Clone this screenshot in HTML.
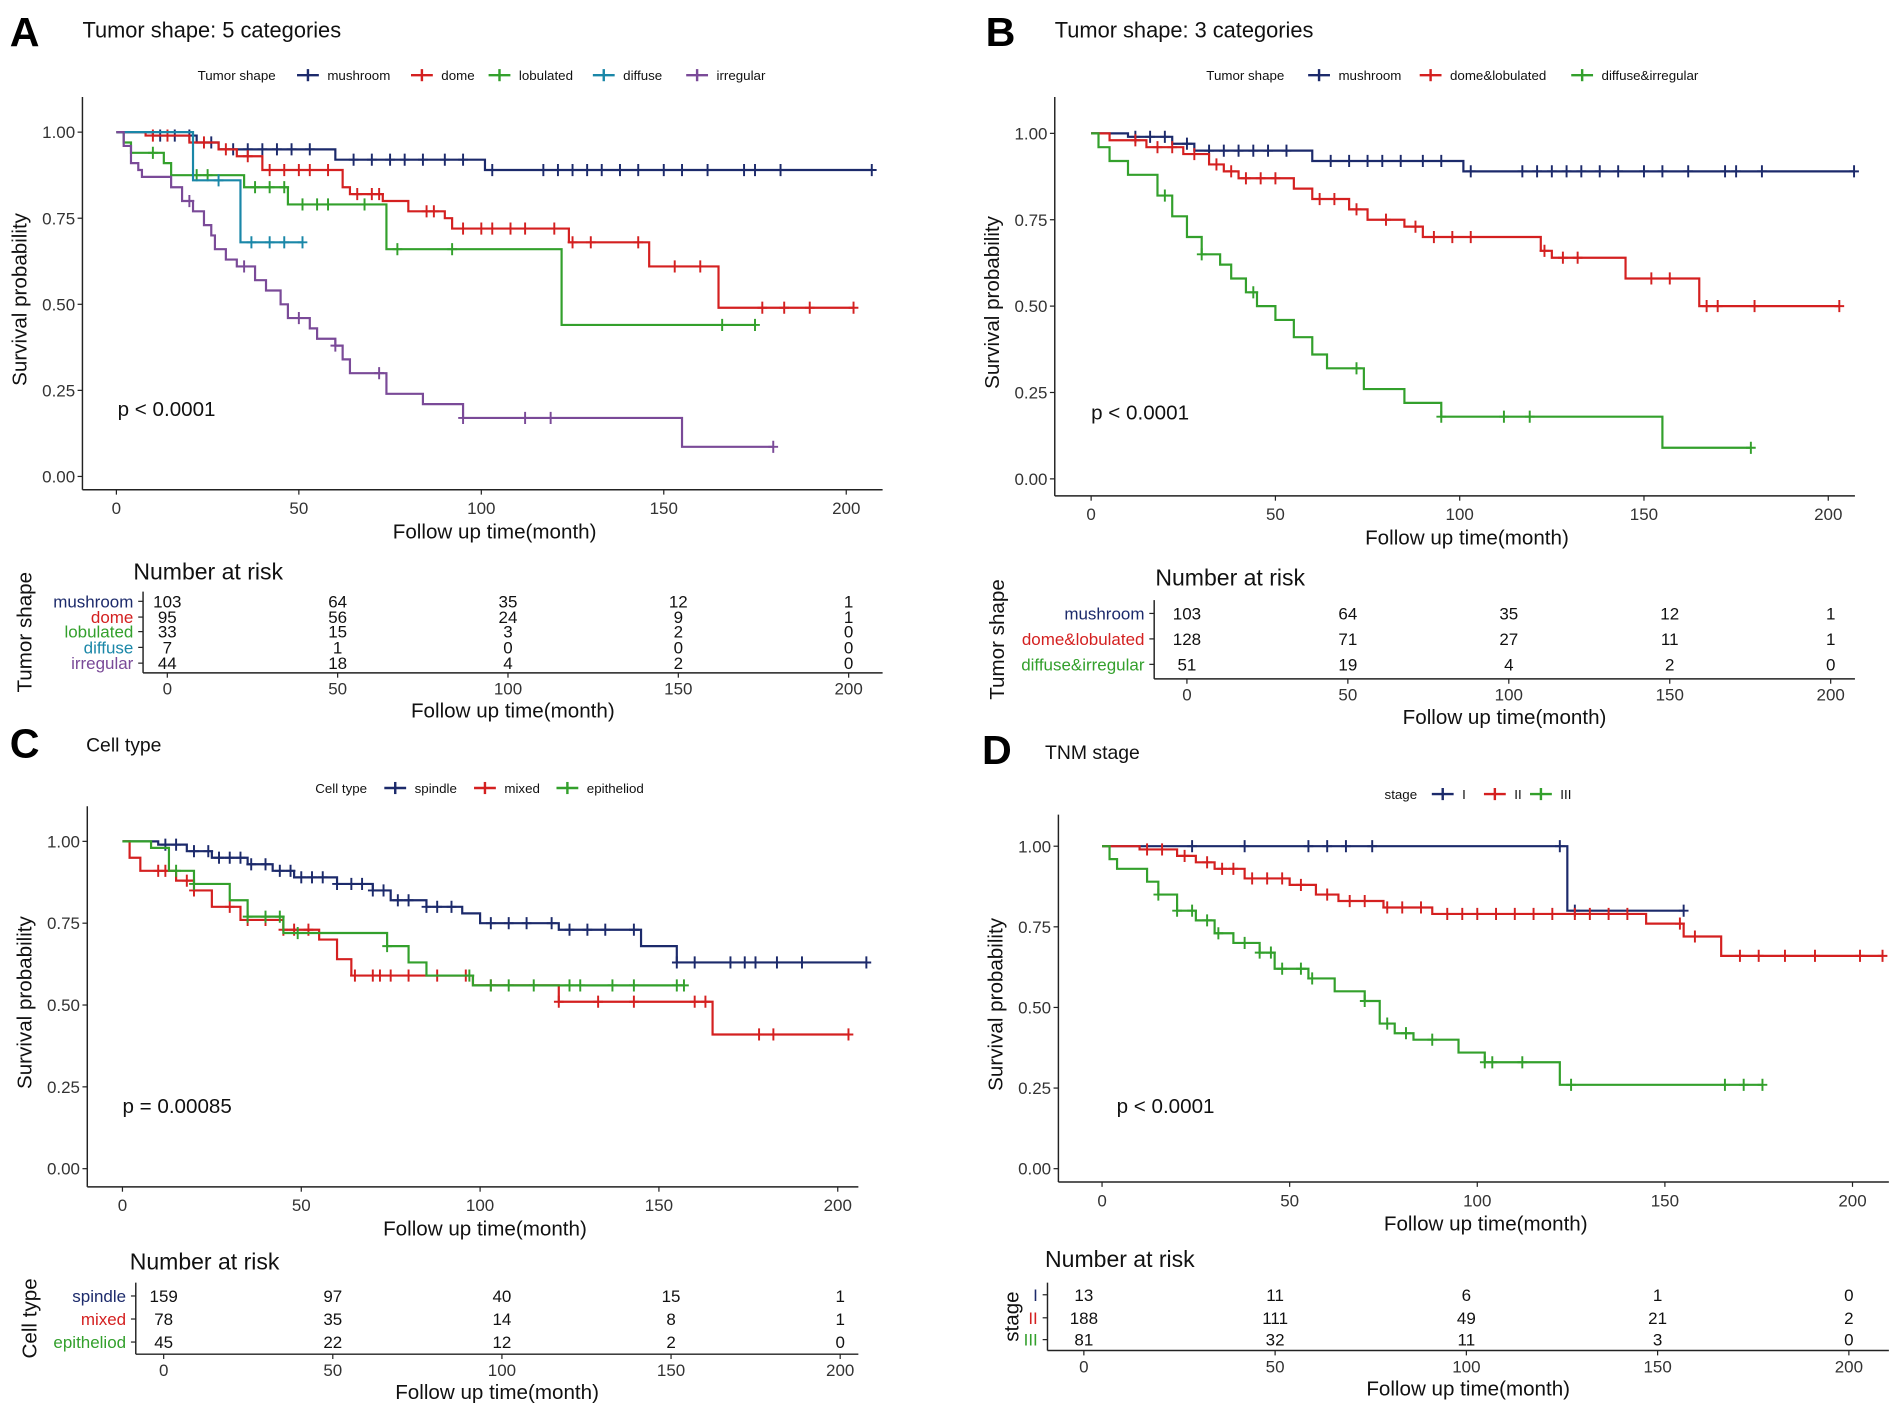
<!DOCTYPE html>
<html><head><meta charset="utf-8"><style>
html,body{margin:0;padding:0;background:#fff;}
svg{display:block;font-family:"Liberation Sans",Arial,sans-serif;}
</style></head><body>
<svg id="fig" width="1901" height="1416" viewBox="0 0 1568 1168" preserveAspectRatio="none" xmlns="http://www.w3.org/2000/svg"></svg>
<script>
// ---------- data ----------
const axisTicksX = [0, 50, 100, 150, 200];
const axisTicksY = [0, 0.25, 0.5, 0.75, 1];
const riskTimes = [0, 50, 100, 150, 200];

// Panel A
const aMushT = [0, 10, 22, 28, 60, 101];
const aMushS = [1, 0.99, 0.97, 0.95, 0.92, 0.89];
const aMushC = [12,16,20,26,32,36,40,44,48,53,65,70,75,79,84,90,95,103,117,121,125,129,133,138,143,150,155,162,172,175,182,207];
const aDomeT = [0, 8, 20, 28, 33, 40, 62, 64, 73, 80, 90, 92, 124, 146, 165];
const aDomeS = [1, 0.99, 0.97, 0.95, 0.93, 0.89, 0.84, 0.82, 0.80, 0.77, 0.75, 0.72, 0.68, 0.61, 0.49];
const aDomeC = [10,14,24,30,36,42,46,50,53,58,66,70,72,85,87,95,100,103,108,112,120,125,130,143,153,160,177,183,190,202];
const aLobT = [0, 2, 4, 13, 15, 35, 47, 74, 122];
const aLobS = [1, 0.97, 0.94, 0.91, 0.875, 0.84, 0.79, 0.66, 0.44];
const aLobC = [10,22,25,38,42,46,51,55,58,68,77,92,166,175];
const aDifT = [0, 21, 34];
const aDifS = [1, 0.86, 0.68];
const aDifC = [28,37,42,46,51];
const aIrrT = [0,2,4,6,7,15,18,21,24,26,27,30,33,38,41,45,47,53,55,60,62,64,74,84,95,155];
const aIrrS = [1,0.96,0.91,0.89,0.87,0.84,0.80,0.77,0.73,0.70,0.66,0.63,0.61,0.57,0.54,0.50,0.46,0.43,0.40,0.38,0.34,0.30,0.24,0.21,0.17,0.086];
const aIrrC = [20,35,50,60,72,95,112,119,180];
const aRisk = [[103,64,35,12,1],[95,56,24,9,1],[33,15,3,2,0],[7,1,0,0,0],[44,18,4,2,0]];

// Panel B
const bMushT = aMushT, bMushS = aMushS, bMushC = aMushC;
const bDlT = [0,5,15,25,32,36,40,55,60,70,75,85,90,122,125,145,165];
const bDlS = [1,0.98,0.96,0.94,0.91,0.89,0.87,0.84,0.81,0.78,0.75,0.73,0.70,0.66,0.64,0.58,0.50];
const bDlC = [12,18,22,28,34,38,42,46,50,62,66,72,80,88,93,98,103,123,128,132,152,157,167,170,180,203];
const bDiT = [0,2,5,10,18,22,26,30,35,38,42,45,50,55,60,64,74,85,95,155];
const bDiS = [1,0.96,0.92,0.88,0.82,0.76,0.70,0.65,0.62,0.58,0.54,0.50,0.46,0.41,0.36,0.32,0.26,0.22,0.18,0.09];
const bDiC = [20,30,44,72,95,112,119,179];
const bRisk = [[103,64,35,12,1],[128,71,27,11,1],[51,19,4,2,0]];

// Panel C
const cSpT = [0,10,18,25,35,42,48,60,70,75,85,95,100,122,145,155];
const cSpS = [1,0.99,0.97,0.95,0.93,0.91,0.89,0.87,0.85,0.82,0.80,0.78,0.75,0.73,0.68,0.63];
const cSpC = [12,15,20,24,27,30,33,36,40,44,47,50,53,56,60,64,67,70,73,77,80,85,88,92,103,108,113,120,125,130,135,143,155,160,170,174,177,183,190,208];
const cMxT = [0,2,5,15,20,25,33,45,55,60,64,98,122,165];
const cMxS = [1,0.95,0.91,0.88,0.85,0.80,0.76,0.73,0.70,0.64,0.59,0.56,0.51,0.41];
const cMxC = [10,12,18,20,30,35,40,45,48,52,65,70,72,75,80,88,96,103,122,133,143,160,163,178,182,203];
const cEpT = [0,8,13,20,30,35,45,74,80,85,98];
const cEpS = [1,0.98,0.91,0.87,0.82,0.77,0.72,0.68,0.63,0.59,0.56];
const cEpC = [15,20,35,40,44,49,74,97,103,108,115,125,128,137,143,155,157];
const cRisk = [[159,97,40,15,1],[78,35,14,8,1],[45,22,12,2,0]];

// Panel D
const dIT = [0, 124];
const dIS = [1, 0.80];
const dIC = [24,38,55,60,65,72,122,126,155];
const dIIT = [0,10,20,25,30,38,50,57,63,75,88,145,155,165];
const dIIS = [1,0.99,0.97,0.95,0.93,0.90,0.88,0.85,0.83,0.81,0.79,0.76,0.72,0.66];
const dIIC = [12,16,22,28,32,35,40,44,48,53,60,66,70,76,80,85,92,96,100,105,110,115,120,126,130,135,140,154,158,170,175,182,190,202,208];
const dIIIT = [0,2,4,12,15,20,25,30,35,42,46,55,62,70,74,78,83,95,102,122];
const dIIIS = [1,0.96,0.93,0.89,0.85,0.80,0.77,0.73,0.70,0.67,0.62,0.59,0.55,0.52,0.45,0.42,0.40,0.36,0.33,0.26];
const dIIIC = [15,20,24,28,31,38,42,45,48,53,56,70,76,81,88,102,104,112,125,166,171,176];
const dRisk = [[13,11,6,1,0],[188,111,49,21,2],[81,32,11,3,0]];

// ---------- drawing ----------
const NS = "http://www.w3.org/2000/svg";
const svg = document.getElementById('fig');
function el(tag, attrs, parent, text) {
  const e = document.createElementNS(NS, tag);
  for (const k in attrs) e.setAttribute(k, attrs[k]);
  if (text !== undefined) e.textContent = text;
  (parent || svg).appendChild(e);
  return e;
}
function txt(x, y, s, size, opts, parent) {
  const a = Object.assign({x: x, y: y, 'font-size': size, fill: '#111'}, opts || {});
  return el('text', a, parent, s);
}
const NAVY = '#1c2a6b', RED = '#d42020', GREEN = '#33a02c', TEAL = '#1a87a8', PURPLE = '#7a4a98';

function survAt(T, S, t) { let v = S[0]; for (let i = 0; i < T.length; i++) if (T[i] <= t) v = S[i]; return v; }

function panel(p) {
  const g = el('g', {});
  
  
  const L = txt(p.letterX, p.letterY, p.letter, 34, {'font-weight': 'bold', fill: '#000'}, g);
  
  
  const T = txt(p.titleX, p.titleY, p.title, p.titleSize, {}, g);
  
  
  // legend
  const lg = el('g', {}, g);
  
  
  txt(p.legTitleX, p.legY + 4, p.legTitle, 11, {}, lg);
  p.series.forEach((s, i) => {
    const sx = p.legSymX[i];
    const it = el('g', {}, lg);
    
    
    el('line', {x1: sx - 9, x2: sx + 9, y1: p.legY, y2: p.legY, stroke: s.color, 'stroke-width': 2}, it);
    el('line', {x1: sx, x2: sx, y1: p.legY - 5, y2: p.legY + 5, stroke: s.color, 'stroke-width': 2}, it);
    txt(sx + 16, p.legY + 4, s.name, 11, {}, it);
  });
  // axes
  const X = t => p.x0 + (p.x200 - p.x0) * t / 200;
  const Y = v => p.y0 + (p.y1 - p.y0) * v;
  const ax = el('g', {}, g);
  
  
  el('line', {x1: p.axL, x2: p.axL, y1: p.axTop, y2: p.axB, stroke: '#222', 'stroke-width': 1.2}, ax);
  el('line', {x1: p.axL, x2: p.axR, y1: p.axB, y2: p.axB, stroke: '#222', 'stroke-width': 1.2}, ax);
  axisTicksY.forEach(v => {
    el('line', {x1: p.axL - 4, x2: p.axL, y1: Y(v), y2: Y(v), stroke: '#222'}, ax);
    txt(p.axL - 6, Y(v) + 5, v.toFixed(2), 14, {'text-anchor': 'end', fill: '#333'}, ax);
  });
  axisTicksX.forEach(t => {
    el('line', {x1: X(t), x2: X(t), y1: p.axB, y2: p.axB + 4, stroke: '#222'}, ax);
    txt(X(t), p.axB + 20, String(t), 14, {'text-anchor': 'middle', fill: '#333'}, ax);
  });
  const xt = txt((p.axL + p.axR) / 2 + 10, p.axB + 40, 'Follow up time(month)', 17, {'text-anchor': 'middle'}, ax);
  
  
  const yt = txt(0, 0, 'Survival probability', 17, {'text-anchor': 'middle', transform: 'translate(' + (p.axL - 46) + ',' + ((p.axTop + p.axB) / 2 + 5) + ') rotate(-90)'}, ax);
  
  
  const pv = txt(p.pX, p.pY, p.pText, 17, {}, g);
  
  
  // curves
  p.series.forEach(s => {
    const cg = el('g', {}, g);
    
    
    let d = 'M' + X(s.t[0]) + ',' + Y(s.s[0]);
    for (let i = 1; i < s.t.length; i++) {
      d += ' H' + X(s.t[i]) + ' V' + Y(s.s[i]);
    }
    const end = Math.max(s.t[s.t.length - 1], s.c[s.c.length - 1]);
    d += ' H' + X(end);
    el('path', {d: d, fill: 'none', stroke: s.color, 'stroke-width': 1.8}, cg);
    s.c.forEach(c => {
      const cx = X(c), cy = Y(survAt(s.t, s.s, c));
      const m = el('path', {d: 'M' + (cx - 4) + ',' + cy + ' H' + (cx + 4) + ' M' + cx + ',' + (cy - 5) + ' V' + (cy + 5), stroke: s.color, 'stroke-width': 1.6}, cg);
      
      
    });
  });
  // risk table
  const rg = el('g', {}, g);
  
  
  const RX = t => p.rx0 + (p.rx200 - p.rx0) * t / 200;
  txt(p.rTitleX, p.rTitleY, 'Number at risk', 19, {}, rg);
  el('line', {x1: p.rAxL, x2: p.rAxL, y1: p.rTop, y2: p.rB, stroke: '#222', 'stroke-width': 1.2}, rg);
  el('line', {x1: p.rAxL, x2: p.axR, y1: p.rB, y2: p.rB, stroke: '#222', 'stroke-width': 1.2}, rg);
  p.series.forEach((s, i) => {
    const ry = p.rRows[i];
    txt(p.rAxL - 8, ry + 5, s.name, p.rFont, {'text-anchor': 'end', fill: s.color}, rg);
    el('line', {x1: p.rAxL - 4, x2: p.rAxL, y1: ry, y2: ry, stroke: '#222'}, rg);
    p.risk[i].forEach((n, j) => {
      txt(RX(riskTimes[j]), ry + 5, String(n), p.rFont, {'text-anchor': 'middle'}, rg);
    });
  });
  riskTimes.forEach(t => {
    el('line', {x1: RX(t), x2: RX(t), y1: p.rB, y2: p.rB + 4, stroke: '#222'}, rg);
    txt(RX(t), p.rB + 18, String(t), 14, {'text-anchor': 'middle', fill: '#333'}, rg);
  });
  txt((p.rAxL + p.axR) / 2, p.rB + 37, 'Follow up time(month)', 17, {'text-anchor': 'middle'}, rg);
  txt(0, 0, p.legTitle, 17, {'text-anchor': 'middle', transform: 'translate(' + p.rYLabX + ',' + ((p.rTop + p.rB) / 2) + ') rotate(-90)'}, rg);
}

panel({id: 'a', letter: 'A', letterX: 8, letterY: 38, title: 'Tumor shape: 5 categories', titleX: 68, titleY: 31, titleSize: 18,
  legTitle: 'Tumor shape', legTitleX: 163, legY: 62, legSymX: [254, 348, 412, 498, 575],
  series: [{name: 'mushroom', color: NAVY, t: aMushT, s: aMushS, c: aMushC},
           {name: 'dome', color: RED, t: aDomeT, s: aDomeS, c: aDomeC},
           {name: 'lobulated', color: GREEN, t: aLobT, s: aLobS, c: aLobC},
           {name: 'diffuse', color: TEAL, t: aDifT, s: aDifS, c: aDifC},
           {name: 'irregular', color: PURPLE, t: aIrrT, s: aIrrS, c: aIrrC}],
  x0: 96, x200: 698, y0: 393, y1: 109, axL: 68, axR: 728, axTop: 80, axB: 404,
  pX: 97, pY: 343, pText: 'p < 0.0001',
  rTitleX: 110, rTitleY: 478, rAxL: 118, rTop: 488, rB: 555, rx0: 138, rx200: 700,
  rRows: [496, 509, 521, 534, 547], rFont: 14, risk: aRisk, rYLabX: 26});

panel({id: 'b', letter: 'B', letterX: 813, letterY: 38, title: 'Tumor shape: 3 categories', titleX: 870, titleY: 31, titleSize: 18,
  legTitle: 'Tumor shape', legTitleX: 995, legY: 62, legSymX: [1088, 1180, 1305],
  series: [{name: 'mushroom', color: NAVY, t: bMushT, s: bMushS, c: bMushC},
           {name: 'dome&lobulated', color: RED, t: bDlT, s: bDlS, c: bDlC},
           {name: 'diffuse&irregular', color: GREEN, t: bDiT, s: bDiS, c: bDiC}],
  x0: 900, x200: 1508, y0: 395, y1: 110, axL: 870, axR: 1530, axTop: 80, axB: 409,
  pX: 900, pY: 346, pText: 'p < 0.0001',
  rTitleX: 953, rTitleY: 483, rAxL: 952, rTop: 495, rB: 560, rx0: 979, rx200: 1510,
  rRows: [506, 527, 548], rFont: 14, risk: bRisk, rYLabX: 828});

panel({id: 'c', letter: 'C', letterX: 8, letterY: 625, title: 'Cell type', titleX: 71, titleY: 620, titleSize: 16,
  legTitle: 'Cell type', legTitleX: 260, legY: 650, legSymX: [326, 400, 468],
  series: [{name: 'spindle', color: NAVY, t: cSpT, s: cSpS, c: cSpC},
           {name: 'mixed', color: RED, t: cMxT, s: cMxS, c: cMxC},
           {name: 'epitheliod', color: GREEN, t: cEpT, s: cEpS, c: cEpC}],
  x0: 101, x200: 691, y0: 964, y1: 694, axL: 72, axR: 708, axTop: 665, axB: 979,
  pX: 101, pY: 918, pText: 'p = 0.00085',
  rTitleX: 107, rTitleY: 1047, rAxL: 112, rTop: 1058, rB: 1117, rx0: 135, rx200: 693,
  rRows: [1069, 1088, 1107], rFont: 14, risk: cRisk, rYLabX: 30});

panel({id: 'd', letter: 'D', letterX: 810, letterY: 630, title: 'TNM stage', titleX: 862, titleY: 626, titleSize: 16,
  legTitle: 'stage', legTitleX: 1142, legY: 655, legSymX: [1190, 1233, 1271],
  series: [{name: 'I', color: NAVY, t: dIT, s: dIS, c: dIC},
           {name: 'II', color: RED, t: dIIT, s: dIIS, c: dIIC},
           {name: 'III', color: GREEN, t: dIIIT, s: dIIIS, c: dIIIC}],
  x0: 909, x200: 1528, y0: 964, y1: 698, axL: 873, axR: 1558, axTop: 672, axB: 975,
  pX: 921, pY: 918, pText: 'p < 0.0001',
  rTitleX: 862, rTitleY: 1045, rAxL: 864, rTop: 1058, rB: 1114, rx0: 894, rx200: 1525,
  rRows: [1068, 1087, 1105], rFont: 14, risk: dRisk, rYLabX: 840});
</script>
</body></html>
